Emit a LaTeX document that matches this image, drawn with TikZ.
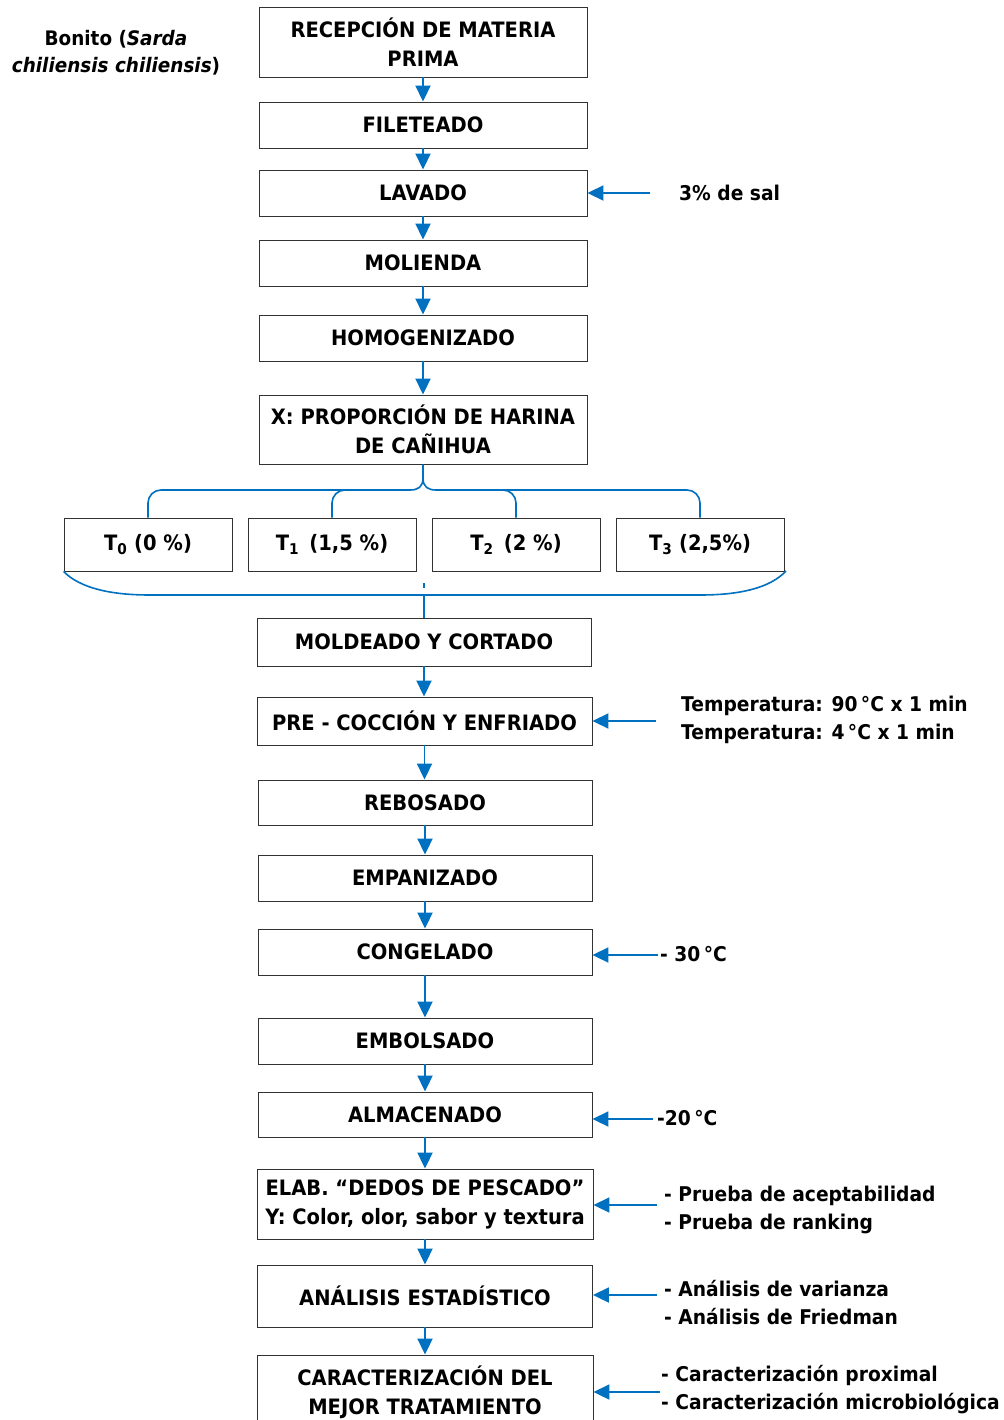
\documentclass[tikz,border=0pt]{standalone}
\usepackage{fontspec}
\setmainfont{DejaVu Sans}[FakeStretch=0.92]
\usetikzlibrary{arrows.meta}
\definecolor{myblue}{RGB}{0,112,192}
\definecolor{boxline}{RGB}{50,50,50}
\tikzset{
  box/.style={draw=boxline, line width=0.9pt, fill=white, align=center, inner sep=0pt,
    font=\fontsize{21.2}{29}\selectfont\bfseries},
  lbl/.style={anchor=west, align=left, inner sep=0pt, font=\fontsize{20.3}{28}\selectfont\bfseries},
  arr/.style={draw=myblue, line width=1.9pt, -{Triangle[length=16pt,width=15pt]}},
  ln/.style={draw=myblue, line width=1.6pt},
}
\begin{document}
\begin{tikzpicture}[x=1pt,y=-1pt]
\useasboundingbox (0,0) rectangle (1003,1420);
\clip (0,0) rectangle (1003,1420);
% main boxes
\node[box, minimum width=328, minimum height=70] (b1) at (423,42) {RECEPCIÓN DE MATERIA\\PRIMA};
\node[box, minimum width=328, minimum height=46] (b2) at (423,125) {FILETEADO};
\node[box, minimum width=328, minimum height=46] (b3) at (423,193) {LAVADO};
\node[box, minimum width=328, minimum height=46] (b4) at (423,263) {MOLIENDA};
\node[box, minimum width=328, minimum height=46] (b5) at (423,338) {HOMOGENIZADO};
\node[box, minimum width=328, minimum height=69] (b6) at (423,429.5) {X: PROPORCIÓN DE HARINA\\DE CAÑIHUA};
\node[box, minimum width=168, minimum height=53] (t0) at (148,544.5) {T\textsubscript{0} (0 \%)};
\node[box, minimum width=168, minimum height=53] (t1) at (332,544.5) {T\textsubscript{1}\, (1,5 \%)};
\node[box, minimum width=168, minimum height=53] (t2) at (516,544.5) {T\textsubscript{2}\, (2 \%)};
\node[box, minimum width=168, minimum height=53] (t3) at (700,544.5) {T\textsubscript{3} (2,5\%)};
\node[box, minimum width=334, minimum height=48] (b7) at (424,642) {MOLDEADO Y CORTADO};
\node[box, minimum width=335, minimum height=48] (b8) at (424.5,721) {PRE - COCCIÓN Y ENFRIADO};
\node[box, minimum width=334, minimum height=45] (b9) at (425,802.5) {REBOSADO};
\node[box, minimum width=334, minimum height=46] (b10) at (425,878) {EMPANIZADO};
\node[box, minimum width=334, minimum height=46] (b11) at (425,952) {CONGELADO};
\node[box, minimum width=334, minimum height=46] (b12) at (425,1041) {EMBOLSADO};
\node[box, minimum width=334, minimum height=45] (b13) at (425,1114.5) {ALMACENADO};
\node[box, minimum width=336, minimum height=70] (b14) at (425,1204) {ELAB. “DEDOS DE PESCADO”\\Y: Color, olor, sabor y textura};
\node[box, minimum width=335, minimum height=62] (b15) at (425,1296) {ANÁLISIS ESTADÍSTICO};
\node[box, minimum width=336, minimum height=74] (b16) at (425,1392) {CARACTERIZACIÓN DEL\\MEJOR TRATAMIENTO};
% left label
\node[align=center, inner sep=0pt, font=\fontsize{20}{27}\selectfont\bfseries] (bon) at (116,53) {Bonito (\textit{Sarda}\\\textit{chiliensis chiliensis})};
% down arrows
\draw[arr] (b1) -- (b2);
\draw[arr] (b2) -- (b3);
\draw[arr] (b3) -- (b4);
\draw[arr] (b4) -- (b5);
\draw[arr] (b5) -- (b6);
\draw[arr] (b7.south) -- (b7.south |- b8.north);
\draw[arr] (b8.south) -- (b8.south |- b9.north);
\draw[arr] (b9) -- (b10);
\draw[arr] (b10) -- (b11);
\draw[arr] (b11) -- (b12);
\draw[arr] (b12) -- (b13);
\draw[arr] (b13) -- (b14);
\draw[arr] (b14) -- (b15);
\draw[arr] (b15) -- (b16);
% top brace
\coordinate (bc) at (b6.south);
\draw[ln] (bc) -- (423,478) .. controls (423,487) and (418,490) .. (410,490);
\draw[ln] (423,478) .. controls (423,487) and (428,490) .. (436,490);
\draw[ln, rounded corners=13pt] (t0.north) -- (148,490) -- (410,490);
\draw[ln, rounded corners=13pt] (t3.north) -- (700,490) -- (436,490);
\draw[ln, rounded corners=13pt] (t1.north) -- (332,490) -- (380,490);
\draw[ln, rounded corners=13pt] (t2.north) -- (516,490) -- (470,490);
% bottom brace
\coordinate (bl) at (t0.south west);
\coordinate (br) at (t3.south east);
\draw[ln] (bl) .. controls (80,588) and (110,595) .. (150,595) -- (700,595) .. controls (740,595) and (770,588) .. (786,571);
\draw[ln, line width=1.2pt] (424,583) -- (424,588);
\draw[ln] (424,595) -- (b7.north);
% side labels
\node[lbl] (s3) at (679,193) {3\% de sal};
\node[lbl] (s8) at (681,720) {Temperatura: 90\,°C x 1 min\\Temperatura: 4\,°C x 1 min};
\node[lbl] (s11) at (660,954) {- 30\,°C};
\node[lbl] (s13) at (657,1118) {-20\,°C};
\node[lbl] (s14) at (664,1209.5) {- Prueba de aceptabilidad\\- Prueba de ranking};
\node[lbl] (s15) at (664,1302.5) {- Análisis de varianza\\- Análisis de Friedman};
\node[lbl] (s16) at (661,1390) {- Caracterización proximal\\- Caracterización microbiológica};
\coordinate (a3) at (650,193);
\coordinate (a8) at (656,721);
\coordinate (a11) at (658,955);
\coordinate (a13) at (653,1119);
\coordinate (a14) at (657,1205);
\coordinate (a15) at (657,1295);
\coordinate (a16) at (660,1392);
\draw[arr] (a3) -- (a3 -| b3.east);
\draw[arr] (a8) -- (a8 -| b8.east);
\draw[arr] (a11) -- (a11 -| b11.east);
\draw[arr] (a13) -- (a13 -| b13.east);
\draw[arr] (a14) -- (a14 -| b14.east);
\draw[arr] (a15) -- (a15 -| b15.east);
\draw[arr] (a16) -- (a16 -| b16.east);
\end{tikzpicture}
\end{document}
